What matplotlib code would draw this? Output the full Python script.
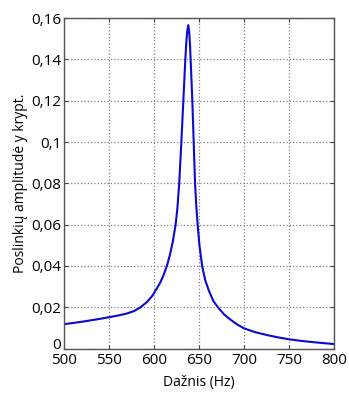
import matplotlib.pyplot as plt
from matplotlib.ticker import FuncFormatter
from matplotlib.transforms import ScaledTranslation

# dažnis (Hz) ir poslinkių amplitudė, nuskaityta nuo grafiko
freq = [500, 510, 520, 530, 540, 550, 560, 570, 578, 585, 592, 598, 603, 607,
        611, 615, 618, 621, 624, 626, 628, 630.4, 632.6, 634.8, 636, 637, 638,
        639, 640, 640.7, 642.6, 644.1, 645.6, 647, 648.5, 650.5, 653.5, 657,
        661, 666, 671, 678, 685, 692, 700, 712, 725, 737, 750, 762, 775, 787,
        800]
amp = [0.0118, 0.0124, 0.0130, 0.0137, 0.0144, 0.0152, 0.0160, 0.0170,
       0.0182, 0.0200, 0.0225, 0.0255, 0.029, 0.032, 0.036, 0.041, 0.046,
       0.052, 0.060, 0.068, 0.080, 0.100, 0.120, 0.140, 0.149, 0.154, 0.1566,
       0.154, 0.147, 0.140, 0.120, 0.100, 0.080, 0.069, 0.060, 0.050, 0.040,
       0.033, 0.028, 0.023, 0.020, 0.0165, 0.0140, 0.0118, 0.0098, 0.0080,
       0.0066, 0.0055, 0.0045, 0.0038, 0.0032, 0.0027, 0.0022]

xticks = [500, 550, 600, 650, 700, 750, 800]
yticks = [0, 0.02, 0.04, 0.06, 0.08, 0.1, 0.12, 0.14, 0.16]

plt.rcParams['font.family'] = ['Open Sans', 'DejaVu Sans']

fig = plt.figure(figsize=(3.49, 3.95), dpi=100)
ax = fig.add_axes([0.1834, 0.1175, 0.7736, 0.8365])

ax.plot(freq, amp, color='#0a0ad2', linewidth=1.5)

ax.set_xlim(500, 800)
ax.set_ylim(0, 0.16)
ax.set_xticks(xticks)
ax.set_yticks(yticks)

comma = FuncFormatter(lambda v, pos: ('%g' % v).replace('.', ','))
ax.yaxis.set_major_formatter(comma)

ax.grid(True, linestyle=':', color='#808080', linewidth=0.9)
ax.tick_params(direction='in', top=True, right=True, length=3,
               labelsize=11, pad=2, color='#444444')
ax.tick_params(axis='x', pad=3)
for s in ax.spines.values():
    s.set_color('#555555')
    s.set_linewidth(1.0)

# "0" šiek tiek aukščiau, kaip originale
lbl0 = ax.get_yticklabels()[0]
lbl0.set_transform(lbl0.get_transform() + ScaledTranslation(0, 4 / 72, fig.dpi_scale_trans))

ax.set_xlabel('Dažnis (Hz)', fontsize=10, labelpad=5)
ax.set_ylabel('Poslinkių amplitudė y krypt.', fontsize=10, labelpad=2)

plt.savefig('out.png', dpi=100)
